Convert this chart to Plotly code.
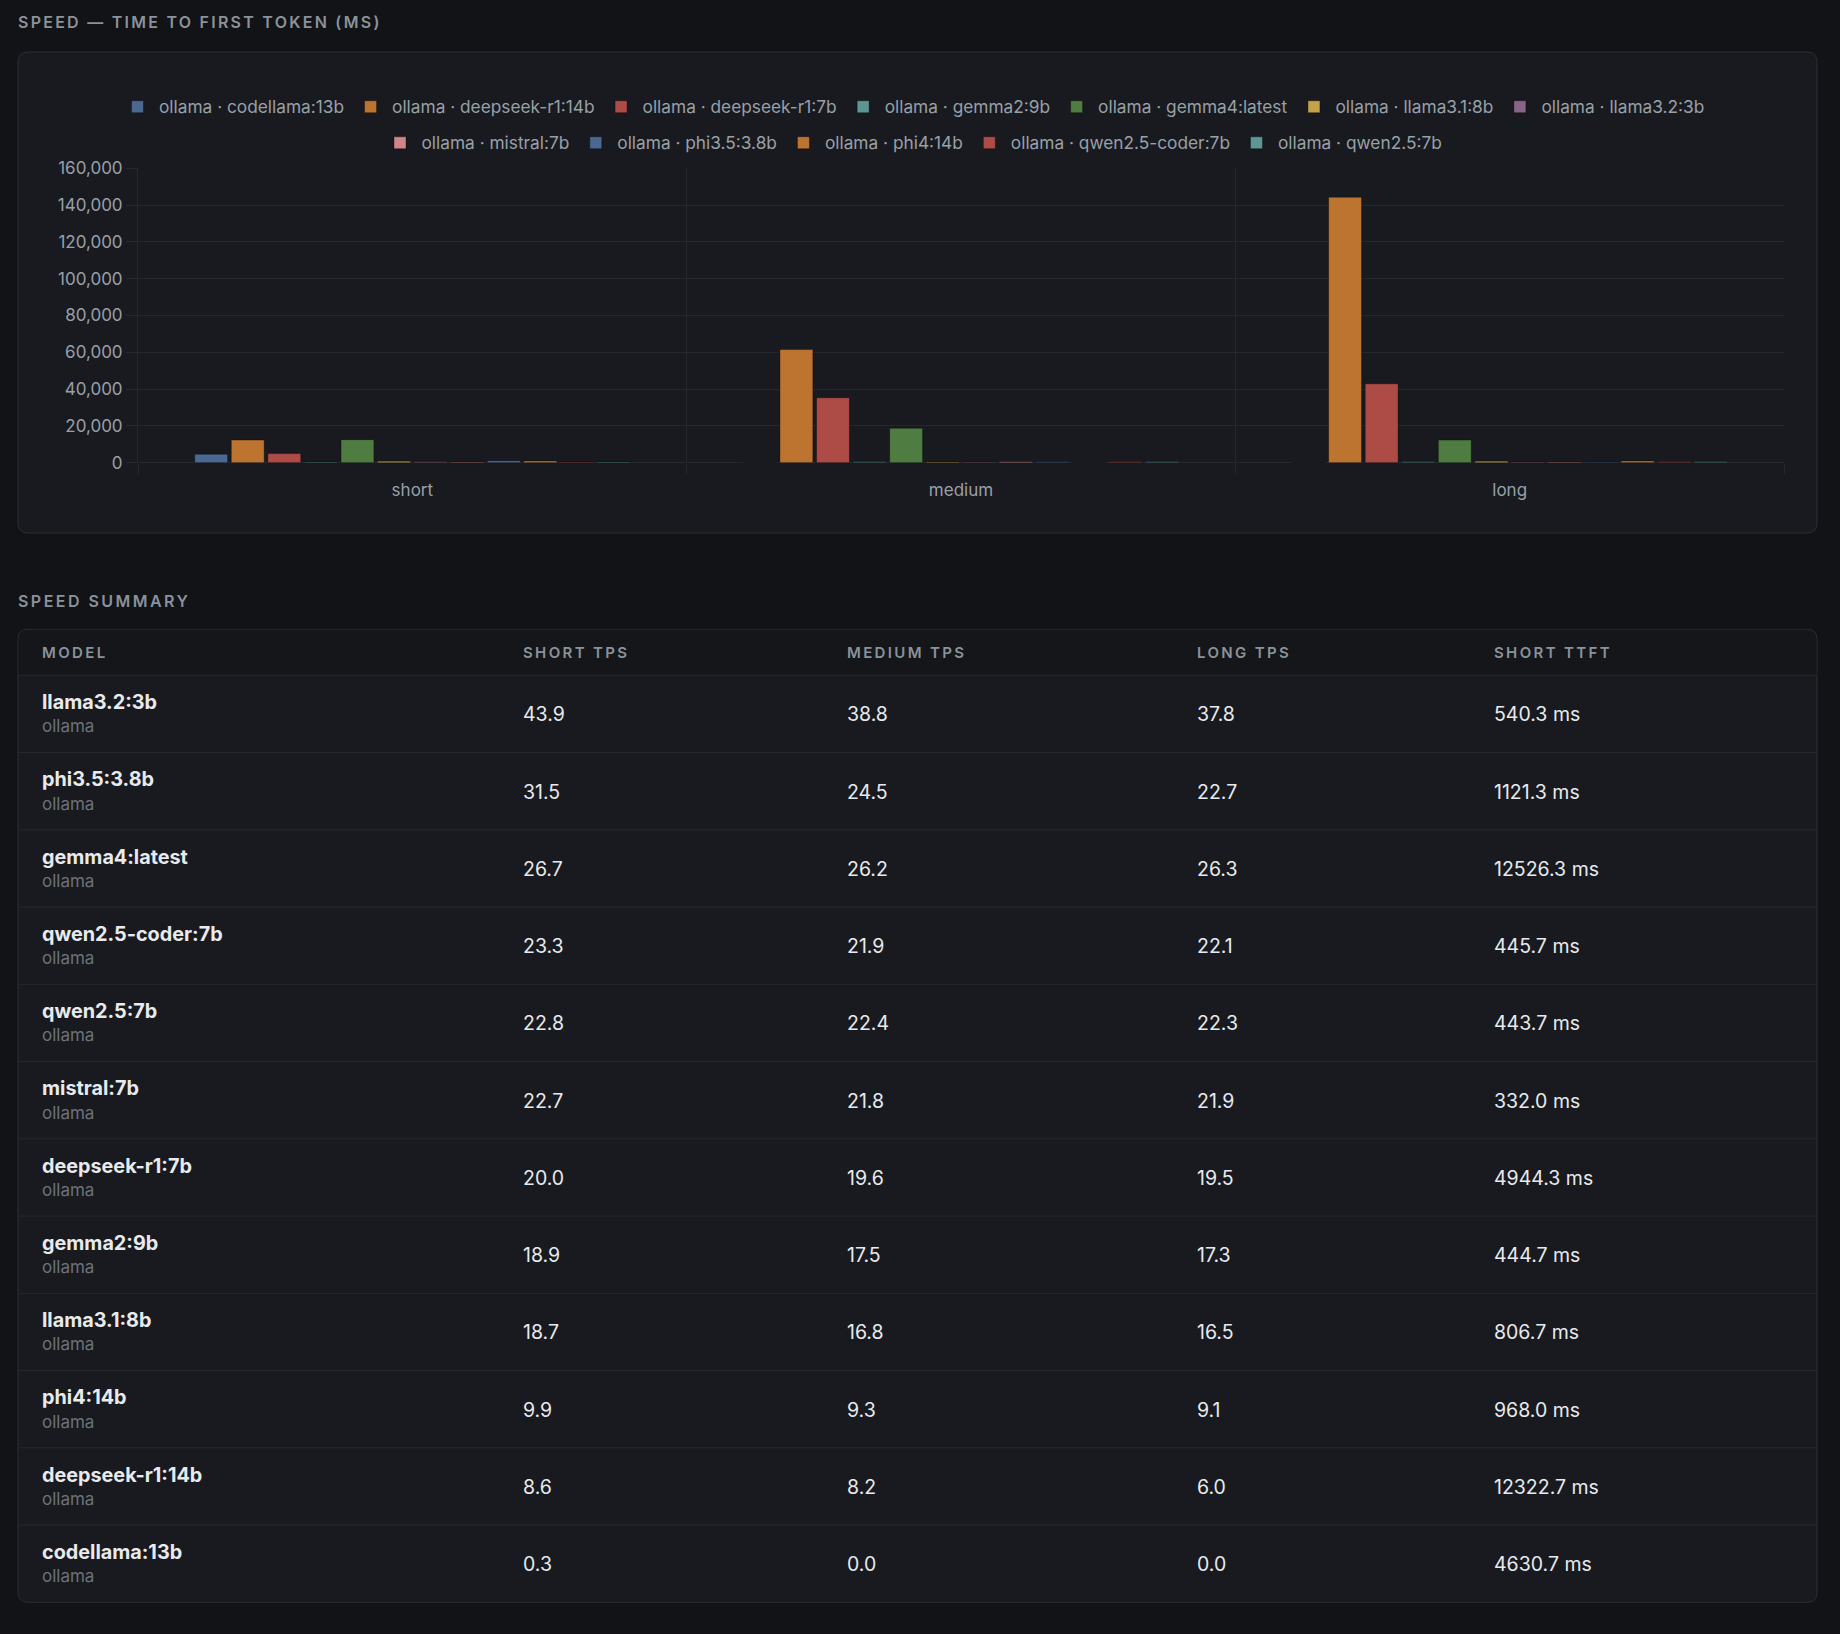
import plotly.graph_objects as go

W, H = 1840, 1634

# ---------------- data ----------------
categories = ["short", "medium", "long"]
provider = "ollama"
models = ["codellama:13b", "deepseek-r1:14b", "deepseek-r1:7b", "gemma2:9b",
          "gemma4:latest", "llama3.1:8b", "llama3.2:3b", "mistral:7b",
          "phi3.5:3.8b", "phi4:14b", "qwen2.5-coder:7b", "qwen2.5:7b"]
ttft_short = [4630.7, 12322.7, 4944.3, 444.7, 12526.3, 806.7, 540.3, 332.0,
              1121.3, 968.0, 445.7, 443.7]
ttft_medium = [0, 61500, 35300, 460, 18700, 420, 380, 520, 450, 0, 480, 470]
ttft_long = [0, 144300, 42900, 450, 12300, 800, 420, 380, 350, 950, 460, 450]

table_headers = ["MODEL", "SHORT TPS", "MEDIUM TPS", "LONG TPS", "SHORT TTFT"]
table_models = ["llama3.2:3b", "phi3.5:3.8b", "gemma4:latest", "qwen2.5-coder:7b",
                "qwen2.5:7b", "mistral:7b", "deepseek-r1:7b", "gemma2:9b",
                "llama3.1:8b", "phi4:14b", "deepseek-r1:14b", "codellama:13b"]
short_tps = [43.9, 31.5, 26.7, 23.3, 22.8, 22.7, 20.0, 18.9, 18.7, 9.9, 8.6, 0.3]
medium_tps = [38.8, 24.5, 26.2, 21.9, 22.4, 21.8, 19.6, 17.5, 16.8, 9.3, 8.2, 0.0]
long_tps = [37.8, 22.7, 26.3, 22.1, 22.3, 21.9, 19.5, 17.3, 16.5, 9.1, 6.0, 0.0]

chart_title = "SPEED — TIME TO FIRST TOKEN (MS)"
table_title = "SPEED SUMMARY"

# ---------------- style ----------------
FONT = "Inter"
PAGE_BG = "#111317"
CARD_BG = "#181a1f"
HEAD_BG = "#141619"
CARD_LINE = "#2b2e34"
ROW_LINE = "#25282e"
GRID = "#24282d"
MUTED = "#99a0a8"
TITLE_C = "#8b929b"
WHITE = "#e8eaed"
SUB = "#6c727b"
palette = ["#4a6892", "#bd7430", "#ad4b47", "#5e9595",
           "#4f7c40", "#c4a24a", "#8c6388", "#d0848b"]


def px(x):
    return x / W


def py(y):
    return 1 - y / H


def rrect(x0, y0, x1, y1, r, top_only=False):
    rb = 0 if top_only else r
    pts = [
        f"M{px(x0 + r)},{py(y0)}",
        f"L{px(x1 - r)},{py(y0)}",
        f"Q{px(x1)},{py(y0)} {px(x1)},{py(y0 + r)}",
        f"L{px(x1)},{py(y1 - rb)}",
        f"Q{px(x1)},{py(y1)} {px(x1 - rb)},{py(y1)}" if rb else "",
        f"L{px(x0 + rb)},{py(y1)}",
        f"Q{px(x0)},{py(y1)} {px(x0)},{py(y1 - rb)}" if rb else "",
        f"L{px(x0)},{py(y0 + r)}",
        f"Q{px(x0)},{py(y0)} {px(x0 + r)},{py(y0)}",
        "Z",
    ]
    return " ".join(p for p in pts if p)


def spaced(t, s):
    return f'<span style="letter-spacing:{s}px">{t}</span>'


fig = go.Figure()

series = list(zip(ttft_short, ttft_medium, ttft_long))
for i, m in enumerate(models):
    fig.add_trace(go.Bar(
        x=categories,
        y=list(series[i]),
        name=f"{provider} · {m}",
        marker=dict(color=palette[i % len(palette)],
                    line=dict(color="rgba(0,0,0,0.35)", width=1)),
        legend="legend" if i < 7 else "legend2",
        hoverinfo="skip",
    ))

# geometry (pixels)
CH_X0, CH_Y0, CH_X1, CH_Y1 = 18, 52, 1817, 533
PL_X0, PL_X1, PL_Y0, PL_Y1 = 138, 1784, 168.3, 462.7
TB_X0, TB_Y0, TB_X1, TB_Y1 = 18, 629.3, 1817, 1602.3
HEAD_H = 46
ROW_H = (TB_Y1 - TB_Y0 - HEAD_H) / len(table_models)
COL_X = [39.5, 520.5, 844.5, 1194.5, 1491.5]

shapes = [
    dict(type="path", path=rrect(CH_X0, CH_Y0, CH_X1, CH_Y1, 10), xref="paper", yref="paper",
         fillcolor=CARD_BG, line=dict(color=CARD_LINE, width=1), layer="below"),
    dict(type="path", path=rrect(TB_X0, TB_Y0, TB_X1, TB_Y1, 10), xref="paper", yref="paper",
         fillcolor=CARD_BG, line=dict(color=CARD_LINE, width=1), layer="below"),
    dict(type="path", path=rrect(TB_X0 + 0.5, TB_Y0 + 0.5, TB_X1 - 0.5, TB_Y0 + HEAD_H, 10, top_only=True),
         xref="paper", yref="paper", fillcolor=HEAD_BG, line=dict(width=0), layer="below"),
]
for k in range(len(table_models)):
    yy = TB_Y0 + HEAD_H + k * ROW_H
    shapes.append(dict(type="line", xref="paper", yref="paper", x0=px(TB_X0), x1=px(TB_X1),
                       y0=py(yy), y1=py(yy), line=dict(color=ROW_LINE, width=1), layer="below"))

ann = [
    dict(text=spaced(chart_title, 2.25), x=px(16), y=py(22), xanchor="left", yanchor="middle",
         font=dict(family=FONT, size=16, color=TITLE_C, weight=600)),
    dict(text=spaced(table_title, 2.45), x=px(16), y=py(600.5), xanchor="left", yanchor="middle",
         font=dict(family=FONT, size=16, color=TITLE_C, weight=600)),
]
for j, h in enumerate(table_headers):
    ann.append(dict(text=spaced(h, 2.35), x=px(COL_X[j]), y=py(TB_Y0 + 23.5), xanchor="left",
                    yanchor="middle", font=dict(family=FONT, size=15, color=TITLE_C, weight=600)))

for r, m in enumerate(table_models):
    top = TB_Y0 + HEAD_H + r * ROW_H
    ttft = ttft_short[models.index(m)]
    ann.append(dict(text=m, x=px(COL_X[0]), y=py(top + 26.8), xanchor="left", yanchor="middle",
                    font=dict(family=FONT, size=19.8, color=WHITE, weight=700)))
    ann.append(dict(text=provider, x=px(COL_X[0]), y=py(top + 51), xanchor="left", yanchor="middle",
                    font=dict(family=FONT, size=17, color=SUB)))
    vals = [f"{short_tps[r]:.1f}", f"{medium_tps[r]:.1f}", f"{long_tps[r]:.1f}", f"{ttft:.1f} ms"]
    for j, v in enumerate(vals):
        ann.append(dict(text=v, x=px(COL_X[j + 1]), y=py(top + 39), xanchor="left", yanchor="middle",
                        font=dict(family=FONT, size=19.5, color=WHITE)))

for a in ann:
    a.update(xref="paper", yref="paper", showarrow=False)

legend_common = dict(orientation="h", xanchor="center", yanchor="middle", x=px(913),
                     font=dict(family=FONT, size=17.3, color=MUTED), bgcolor="rgba(0,0,0,0)",
                     traceorder="normal", itemwidth=33)

fig.update_layout(
    width=W, height=H,
    margin=dict(l=0, r=0, t=0, b=0, autoexpand=False),
    paper_bgcolor=PAGE_BG, plot_bgcolor="rgba(0,0,0,0)",
    font=dict(family=FONT, color=MUTED),
    barmode="group", bargap=0.2, bargroupgap=0.1,
    showlegend=True,
    legend=dict(legend_common, y=py(107)),
    legend2=dict(legend_common, y=py(143)),
    xaxis=dict(domain=[px(PL_X0), px(PL_X1)], type="category", tickson="boundaries",
               ticks="outside", ticklen=10, tickcolor=GRID, showgrid=True, gridcolor=GRID,
               ticklabelstandoff=15, automargin=False,
               tickfont=dict(family=FONT, size=17, color=MUTED), showline=False, zeroline=False,
               fixedrange=True),
    yaxis=dict(domain=[py(PL_Y1), py(PL_Y0)], range=[0, 160000], dtick=20000, tickformat=",",
               ticks="outside", ticklen=11, tickcolor=GRID, showgrid=True, gridcolor=GRID,
               zeroline=True, zerolinecolor=GRID, zerolinewidth=1, showline=True, linecolor=GRID,
               automargin=False,
               tickfont=dict(family=FONT, size=17, color=MUTED), fixedrange=True),
    shapes=shapes,
    annotations=ann,
)

fig.write_html("out.html", config={"displayModeBar": False},
               post_script="document.body.style.margin='0';")
